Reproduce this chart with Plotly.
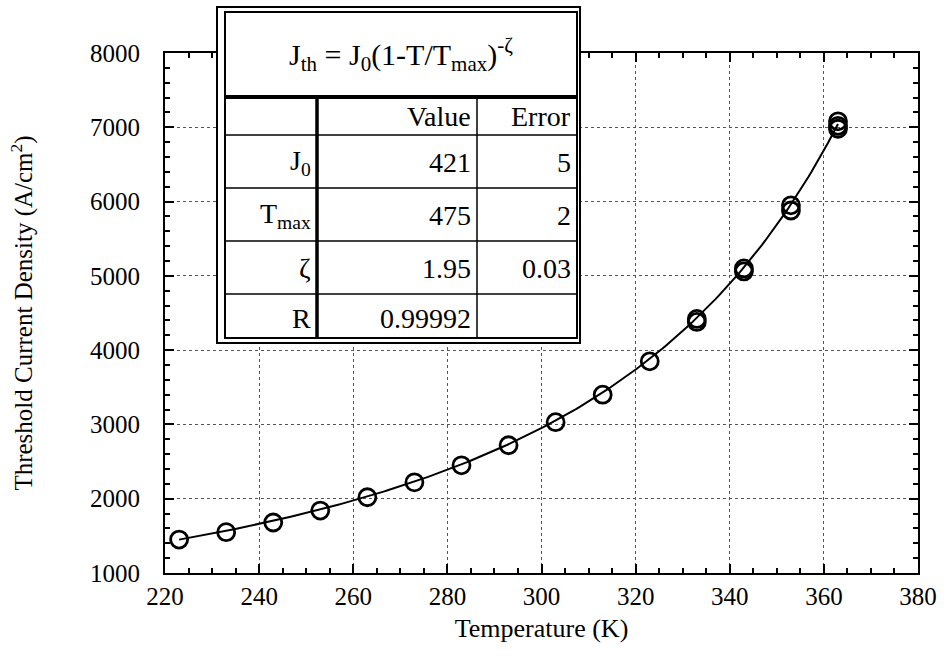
import numpy as np
import plotly.graph_objects as go

# Measured threshold current density vs. temperature
temperature_K = [223, 233, 243, 253, 263, 273, 283, 293, 303, 313, 323,
                 333, 333, 343, 343, 353, 353, 363, 363, 363]
j_threshold = [1450, 1550, 1680, 1840, 2020, 2220, 2450, 2720, 3030, 3400, 3850,
               4380, 4420, 5060, 5100, 5880, 5950, 6980, 7080, 7020]

# Fit parameters: J_th = J0 (1 - T/Tmax)^(-zeta)
J0 = 421
T_MAX = 475
ZETA = 1.95

fit_rows = ["J<sub>0</sub>", "T<sub>max</sub>", "ζ", "R"]
fit_values = ["421", "475", "1.95", "0.99992"]
fit_errors = ["5", "2", "0.03", ""]

x_ticks = list(range(220, 381, 20))
y_ticks = list(range(1000, 8001, 1000))

t_fit = np.linspace(min(temperature_K), max(temperature_K), 200)
j_fit = J0 * (1 - t_fit / T_MAX) ** (-ZETA)

W, H = 949, 656
L, R, T, B = 165, 31, 53, 83
PW, PH = W - L - R, H - T - B

FONT = "Liberation Serif"


def px(x):
    return (x - L) / PW


def py(y):
    return (H - B - y) / PH


fig = go.Figure()
fig.add_trace(go.Scatter(x=t_fit, y=j_fit, mode="lines",
                         line=dict(color="black", width=2), hoverinfo="skip"))
fig.add_trace(go.Scatter(x=temperature_K, y=j_threshold, mode="markers",
                         marker=dict(symbol="circle-open", size=17, color="black",
                                     line=dict(width=2.8, color="black"))))

shapes = []


def box(x0, y0, x1, y1, width, fill=None):
    d = dict(type="rect", xref="paper", yref="paper",
             x0=px(x0), x1=px(x1), y0=py(y1), y1=py(y0),
             line=dict(color="black", width=width), layer="above")
    if fill:
        d["fillcolor"] = fill
    shapes.append(d)


def seg(x0, y0, x1, y1, width):
    shapes.append(dict(type="line", xref="paper", yref="paper",
                       x0=px(x0), x1=px(x1), y0=py(y0), y1=py(y1),
                       line=dict(color="black", width=width), layer="above"))


# Parameter table with double frame
box(217, 7, 580, 343, 2, fill="white")
box(225, 12, 577, 338, 2)
row_lines = [97, 135, 188, 241, 294]
seg(225, 97, 577, 97, 4)
for yl in row_lines[1:]:
    seg(225, yl, 577, yl, 1.5)
seg(317, 97, 317, 338, 3.5)
seg(477, 97, 477, 338, 1.5)

annotations = []


def text(s, x, y, anchor, size=28):
    annotations.append(dict(text=s, x=px(x), y=py(y), xref="paper", yref="paper",
                            xanchor=anchor, yanchor="middle", showarrow=False,
                            font=dict(family=FONT, size=size, color="black")))


text("J<sub>th</sub> = J<sub>0</sub>(1-T/T<sub>max</sub>)<sup>-ζ</sup>", 401, 54, "center", 30)
text("Value", 473, 116, "right")
text("Error", 573, 116, "right")
row_mid = [162, 215, 268, 318]
for lab, val, err, ym in zip(fit_rows, fit_values, fit_errors, row_mid):
    text(lab, 313, ym, "right")
    text(val, 473, ym, "right")
    if err:
        text(err, 573, ym, "right")

axis_common = dict(
    showline=True, linecolor="black", linewidth=2, mirror="ticks",
    ticks="inside", ticklen=9, tickwidth=1.5, tickcolor="black",
    showgrid=True, gridcolor="#555", griddash="dot", gridwidth=1,
    zeroline=False, tickfont=dict(family=FONT, size=25, color="black"),
)

fig.update_layout(
    width=W, height=H,
    margin=dict(l=L, r=R, t=T, b=B),
    paper_bgcolor="white", plot_bgcolor="white",
    showlegend=False,
    shapes=shapes, annotations=annotations,
    xaxis=dict(range=[220, 380], tickvals=x_ticks,
               minor=dict(dtick=5, ticks="inside", ticklen=5, tickcolor="black", showgrid=False),
               title=dict(text="Temperature (K)", font=dict(family=FONT, size=26, color="black"),
                          standoff=10),
               ticklabelstandoff=0,
               **axis_common),
    yaxis=dict(range=[1000, 8000], tickvals=y_ticks,
               minor=dict(dtick=200, ticks="inside", ticklen=5, tickcolor="black", showgrid=False),
               title=dict(text="Threshold Current Density (A/cm<sup>2</sup>)",
                          font=dict(family=FONT, size=25, color="black"), standoff=50),
               ticklabelstandoff=18,
               **axis_common),
)

fig.write_html("out.html")
